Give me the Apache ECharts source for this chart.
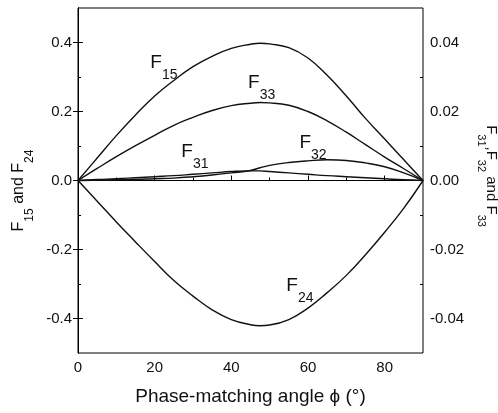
<!DOCTYPE html>
<html><head><meta charset="utf-8">
<script src="https://cdn.jsdelivr.net/npm/echarts@6/dist/echarts.min.js"></script>
<style>html,body{margin:0;padding:0;background:#fff}#c{width:498px;height:413px}</style>
</head><body><div id="c"></div>
<script>
// ---- data ----
const phi = [0,5,10,15,20,25,30,35,40,45,47.5,50,55,60,65,70,75,80,85,90];
const F15 = [0,0.065,0.13,0.19,0.245,0.29,0.33,0.36,0.383,0.395,0.398,0.396,0.385,0.355,0.305,0.245,0.18,0.12,0.06,0];
const F24 = [0,-0.06,-0.12,-0.178,-0.235,-0.29,-0.335,-0.375,-0.403,-0.418,-0.421,-0.419,-0.403,-0.37,-0.325,-0.275,-0.215,-0.15,-0.08,0];
const F31 = [0,0.0003,0.0005,0.0008,0.0011,0.0014,0.0018,0.0022,0.0026,0.0028,0.0028,0.0026,0.0022,0.0018,0.0014,0.0011,0.0008,0.0005,0.0002,0];
const F32 = [0,0.0001,0.0002,0.0003,0.0005,0.0007,0.0011,0.0016,0.0022,0.0029,0.0037,0.0044,0.0052,0.0057,0.0060,0.0058,0.0051,0.0040,0.0022,0];
const F33 = [0,0.0035,0.0069,0.0101,0.0131,0.0160,0.0183,0.0203,0.0217,0.0224,0.0226,0.0225,0.0218,0.0200,0.0173,0.0140,0.0104,0.0068,0.0034,0];
const xTicks = [0,20,40,60,80];
const xMinor = [10,30,50,70];
const leftTicks = [-0.4,-0.2,0,0.2,0.4];
const leftMinor = [-0.3,-0.1,0.1,0.3];
const rightTicks = [-0.04,-0.02,0,0.02,0.04];
const rightMinor = [-0.03,-0.01,0.01,0.03];

const FONT = "'Liberation Sans', Arial, sans-serif";
const ink = '#111';
const curveRich = {
  m: {fontSize: 19, fontFamily: FONT, color: ink, verticalAlign: 'top'},
  s: {fontSize: 14, fontFamily: FONT, color: ink, lineHeight: 29, verticalAlign: 'bottom'}
};
const nameRichL = {
  m: {fontSize: 16, fontFamily: FONT, color: ink, verticalAlign: 'top'},
  s: {fontSize: 12, fontFamily: FONT, color: ink, lineHeight: 25, verticalAlign: 'bottom'}
};
const nameRichR = {
  m: {fontSize: 15, fontFamily: FONT, color: ink, verticalAlign: 'top'},
  s: {fontSize: 11, fontFamily: FONT, color: ink, lineHeight: 24, verticalAlign: 'bottom'}
};
function pairs(ys){ return phi.map((x,i)=>[x, ys[i]]); }
function annot(txt, x, y){
  return {
    symbol: 'circle', symbolSize: 0, silent: true,
    label: {show: true, position: 'inside', formatter: txt, rich: curveRich},
    data: [{coord: [x, y]}]
  };
}
function line(name, ys, yIdx, mp){
  return {
    name, type: 'line', yAxisIndex: yIdx, data: pairs(ys), showSymbol: false, symbol: 'none',
    smooth: 0.45, lineStyle: {color: ink, width: 1.4}, silent: true, markPoint: mp
  };
}
const tickFont = {fontSize: 15, fontFamily: FONT, color: ink};
const chart = echarts.init(document.getElementById('c'), null, {renderer: 'canvas'});
chart.setOption({
  animation: false,
  backgroundColor: '#fff',
  grid: {left: 78, right: 75, top: 8, bottom: 60, show: true, borderColor: '#000', borderWidth: 1,
         containLabel: false, outerBoundsMode: 'none'},
  xAxis: [
    {type: 'value', min: 0, max: 90, interval: 10,
     name: 'Phase-matching angle \u03d5 (\u00b0)', nameLocation: 'middle', nameGap: 34,
     nameTextStyle: {fontSize: 19, fontFamily: FONT, color: ink},
     axisLine: {show: true, lineStyle: {color: '#000', width: 1}},
     axisTick: {show: true, inside: true, length: 5, customValues: xTicks, lineStyle: {color: '#000'}},
     axisLabel: Object.assign({show: true, customValues: xTicks, margin: 7}, tickFont),
     splitLine: {show: false}},
    {type: 'value', min: 0, max: 90, interval: 10, position: 'bottom',
     axisLine: {show: false}, axisLabel: {show: false}, splitLine: {show: false},
     axisTick: {show: true, inside: true, length: 3, customValues: xMinor, lineStyle: {color: '#000'}}}
  ],
  yAxis: [
    {type: 'value', min: -0.5, max: 0.5, interval: 0.1, position: 'left',
     name: '{m|F}{s|15}{m| and F}{s|24}', nameLocation: 'middle', nameGap: 42,
     nameTextStyle: {rich: nameRichL, padding: [0, 20, 0, 0]},
     axisLine: {show: true, lineStyle: {color: '#000'}},
     axisTick: {show: true, inside: true, length: 5, customValues: leftTicks, lineStyle: {color: '#000'}},
     axisLabel: Object.assign({show: true, customValues: leftTicks, margin: 6,
                 formatter: v => Number(v).toFixed(1)}, tickFont),
     splitLine: {show: false}},
    {type: 'value', min: -0.05, max: 0.05, interval: 0.01, position: 'right',
     name: '{m|F}{s|31}{m|,F}{s|32}{m| and F}{s|33}', nameLocation: 'middle', nameGap: 46, nameRotate: -90,
     nameTextStyle: {rich: nameRichR, padding: [0, 9, 0, 0]},
     axisLine: {show: true, lineStyle: {color: '#000'}},
     axisTick: {show: true, inside: true, length: 5, customValues: rightTicks, lineStyle: {color: '#000'}},
     axisLabel: Object.assign({show: true, customValues: rightTicks, margin: 7,
                 formatter: v => Number(v).toFixed(2)}, tickFont),
     splitLine: {show: false}},
    {type: 'value', min: -0.5, max: 0.5, interval: 0.1, position: 'left',
     axisLine: {show: false}, axisLabel: {show: false}, splitLine: {show: false},
     axisTick: {show: true, inside: true, length: 3, customValues: leftMinor, lineStyle: {color: '#000'}}},
    {type: 'value', min: -0.05, max: 0.05, interval: 0.01, position: 'right',
     axisLine: {show: false}, axisLabel: {show: false}, splitLine: {show: false},
     axisTick: {show: true, inside: true, length: 3, customValues: rightMinor, lineStyle: {color: '#000'}}}
  ],
  series: [
    line('F15', F15, 0, annot('{m|F}{s|15}', 22.4, 0.326)),
    line('F24', F24, 0, annot('{m|F}{s|24}', 57.9, -0.320)),
    line('F31', F31, 1, annot('{m|F}{s|31}', 30.5, 0.0070)),
    line('F32', F32, 1, annot('{m|F}{s|32}', 61.3, 0.0094)),
    line('F33', F33, 1, annot('{m|F}{s|33}', 47.9, 0.0269))
  ]
});
</script></body></html>
